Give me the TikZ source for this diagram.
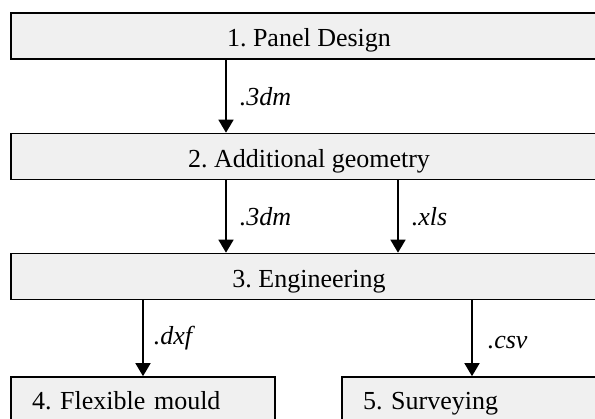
\documentclass[tikz,border=0pt]{standalone}
\usepackage{fontspec}
\setmainfont{Liberation Serif}
\usetikzlibrary{arrows.meta}
\definecolor{boxGray}{RGB}{240,240,240}
\frenchspacing
\tikzset{
    stage/.style={draw, line width=1.6pt, fill=boxGray, inner sep=0pt,
        text height=22pt, text depth=0pt, font=\fontsize{26}{30}\selectfont},
    fmt/.style={right, inner sep=0pt, xshift=13pt, font=\fontsize{26}{30}\selectfont\itshape},
    flow/.style={->, line width=1.6pt}
}
\begin{document}
\begin{tikzpicture}[x=1pt,y=-1pt,>={Triangle[width=15pt,length=13pt]}]
        \useasboundingbox (0,0) rectangle (595,419);
        \clip (0,0) rectangle (595,419);
        % stages
        \node[stage, minimum width=596pt, minimum height=46pt] (design) at (309,36) {1. Panel Design};
        \node[stage, minimum width=596pt, minimum height=46pt] (geom) at (309,156.5) {2. Additional geometry};
        \node[stage, minimum width=596pt, minimum height=46pt] (eng) at (309,276.5) {3. Engineering};
        \node[stage, minimum width=264pt, minimum height=44pt, text width=222pt, align=left] (mould) at (143,399) {4. Flexible mould};
        \node[stage, minimum width=278pt, minimum height=44pt, text width=236pt, align=left] (survey) at (481,399) {5. Surveying};
        % x positions of the arrows
        \coordinate (xA) at (226,0);
        \coordinate (xB) at (398,0);
        \coordinate (xC) at (143,0);
        \coordinate (xD) at (472,0);
        \draw[flow] (design.south -| xA) -- node[fmt] (f1) {.3dm} (geom.north -| xA);
        \draw[flow] (geom.south -| xA) -- node[fmt] (f2) {.3dm} (eng.north -| xA);
        \draw[flow] (geom.south -| xB) -- node[fmt] (f3) {.xls} (eng.north -| xB);
        \draw[flow] (eng.south -| xC) -- node[fmt, xshift=-3pt] (f4) {.dxf} (mould.north -| xC);
        \draw[flow] (eng.south -| xD) -- node[fmt, xshift=2pt, yshift=-4pt] (f5) {.csv} (survey.north -| xD);
    \end{tikzpicture}
\end{document}
